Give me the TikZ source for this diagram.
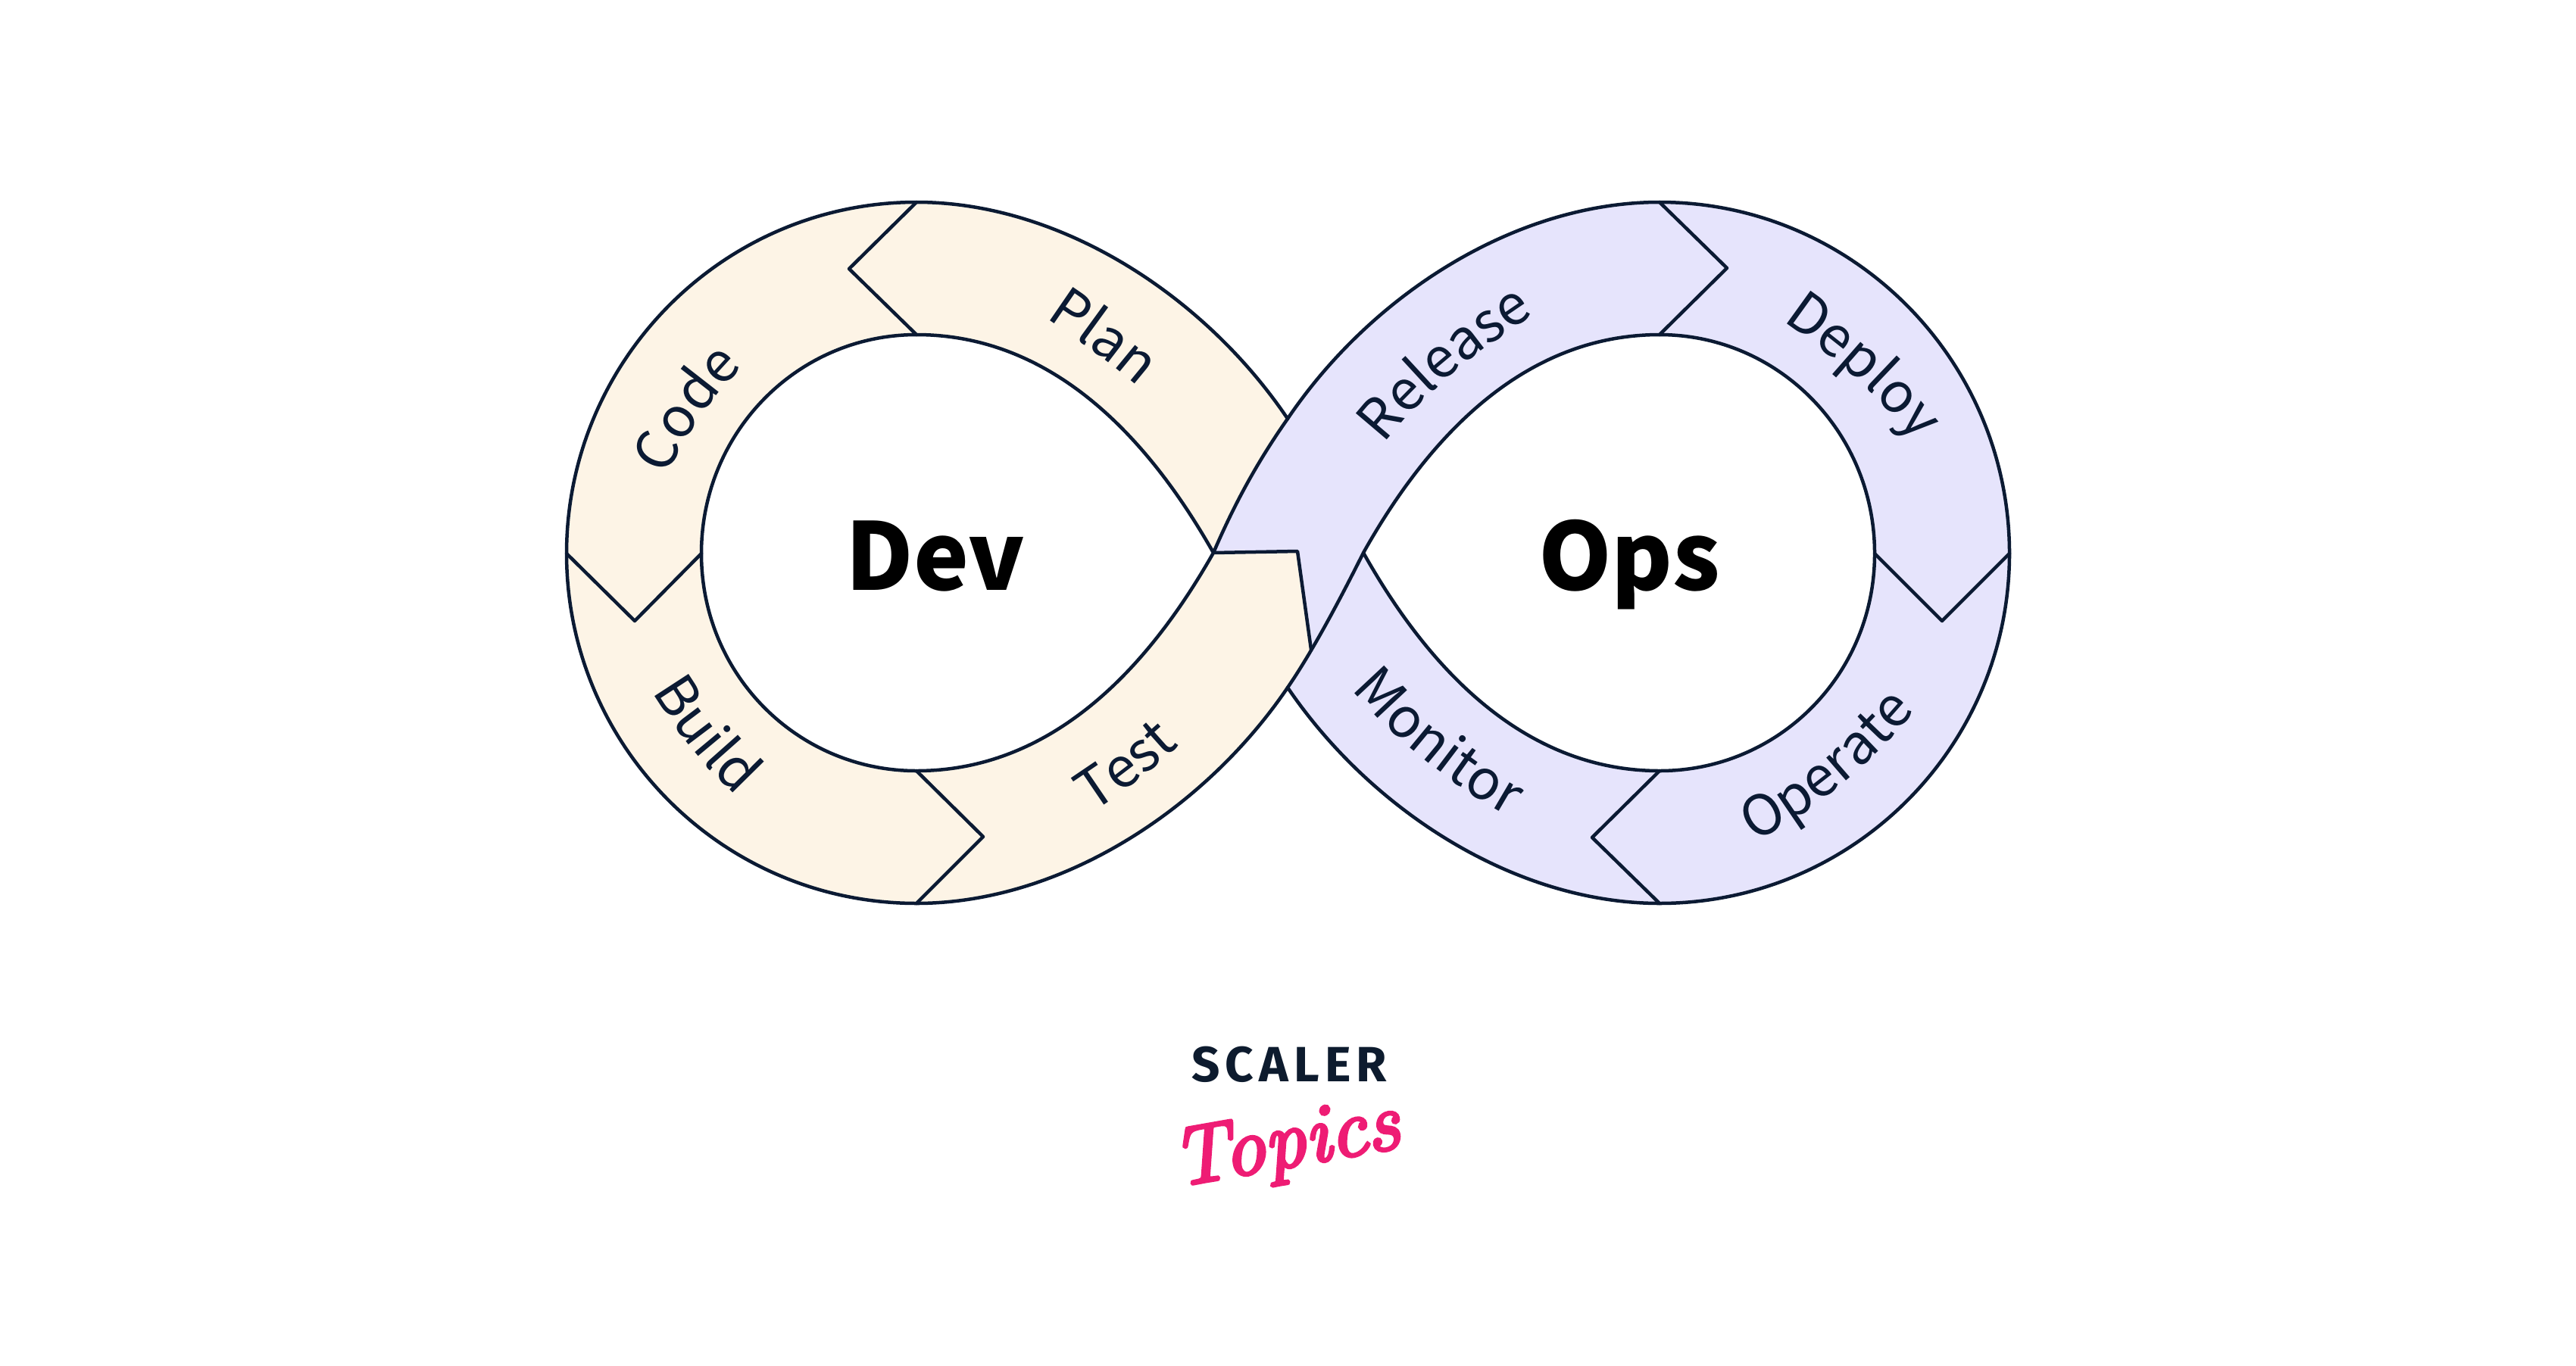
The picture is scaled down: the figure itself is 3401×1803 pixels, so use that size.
\documentclass[tikz,border=0pt]{standalone}
\usepackage{fontspec}
\usetikzlibrary{decorations.text}
\newfontfamily\lblfont{Noto Sans CJK SC}
\newfontfamily\scalerfont[LetterSpace=11]{Fira Sans}
\newfontfamily\topicsfont[FakeBold=4,ItalicFeatures={FakeBold=4}]{Latin Modern Roman}
\definecolor{ink}{HTML}{0B1A33}
\definecolor{devfill}{HTML}{FDF4E6}
\definecolor{opsfill}{HTML}{E6E4FC}
\definecolor{scaler}{HTML}{0D1B2E}
\definecolor{topics}{HTML}{EE1C74}
\tikzset{
  x=0.01cm,y=-0.01cm,
  edge/.style={draw=ink,line width=0.045cm,line join=round,line cap=round},
  devband/.style={fill=devfill,even odd rule},
  opsband/.style={fill=opsfill,even odd rule},
  biglabel/.style={font=\lblfont\bfseries\fontsize{35}{42}\selectfont,text=black,inner sep=0pt,anchor=base},
  curved/.style={decorate,decoration={text along path,text align=center,
    text={|\lblfont\fontsize{20.8}{25}\selectfont\color{ink}|#1}}}
}
\begin{document}
\begin{tikzpicture}
\useasboundingbox (0,0) rectangle (3401,1803);
% key points
\coordinate (dtop) at (1210,267);
\coordinate (dbot) at (1210,1193);
\coordinate (dleft) at (748,731);
\coordinate (ditop) at (1210,442);
\coordinate (dibot) at (1210,1018);
\coordinate (dileft) at (926,731);
\coordinate (tipL) at (1602,730);
\coordinate (tipR) at (1800,730);
\coordinate (xtop) at (1700,553);
\coordinate (xbot) at (1700,908);
\coordinate (otop) at (2191,267);
\coordinate (obot) at (2191,1193);
\coordinate (oright) at (2653,731);
\coordinate (oitop) at (2191,442);
\coordinate (oibot) at (2191,1018);
\coordinate (oiright) at (2475,731);
\coordinate (tail1) at (1713,728);
\coordinate (tail2) at (1731,858);
% fills
\path[devband] (tipL) .. controls (1630,665) and (1660,610) .. (xtop)
  .. controls (1590,390) and (1400,267) .. (dtop)
  .. controls (955,267) and (748,476) .. (dleft)
  .. controls (748,986) and (955,1193) .. (dbot)
  .. controls (1400,1193) and (1590,1070) .. (xbot)
  .. controls (1712,890) and (1722,875) .. (tail2)
  -- (tail1) -- cycle
  (tipL) .. controls (1500,550) and (1370,442) .. (ditop)
  .. controls (1053,442) and (926,571) .. (dileft)
  .. controls (926,891) and (1053,1018) .. (dibot)
  .. controls (1370,1018) and (1500,910) .. (tipL) -- cycle;
\path[opsband] (tipL) .. controls (1630,665) and (1660,610) .. (xtop)
  .. controls (1810,390) and (2000,267) .. (otop)
  .. controls (2446,267) and (2653,476) .. (oright)
  .. controls (2653,986) and (2446,1193) .. (obot)
  .. controls (2000,1193) and (1810,1070) .. (xbot)
  .. controls (1712,890) and (1722,875) .. (tail2)
  -- (tail1) -- cycle
  (tipR) .. controls (1901,550) and (2031,442) .. (oitop)
  .. controls (2348,442) and (2475,571) .. (oiright)
  .. controls (2475,891) and (2348,1018) .. (oibot)
  .. controls (2031,1018) and (1901,910) .. (tipR) -- cycle;
% outlines
\draw[edge] (xtop) .. controls (1590,390) and (1400,267) .. (dtop)
  .. controls (955,267) and (748,476) .. (dleft)
  .. controls (748,986) and (955,1193) .. (dbot)
  .. controls (1400,1193) and (1590,1070) .. (xbot)
  .. controls (1733,860) and (1770,790) .. (tipR)
  .. controls (1901,550) and (2031,442) .. (oitop)
  .. controls (2348,442) and (2475,571) .. (oiright)
  .. controls (2475,891) and (2348,1018) .. (oibot)
  .. controls (2031,1018) and (1901,910) .. (tipR);
\draw[edge] (xbot) .. controls (1810,1070) and (2000,1193) .. (obot)
  .. controls (2446,1193) and (2653,986) .. (oright)
  .. controls (2653,476) and (2446,267) .. (otop)
  .. controls (2000,267) and (1810,390) .. (xtop)
  .. controls (1660,610) and (1630,665) .. (tipL)
  .. controls (1500,550) and (1370,442) .. (ditop)
  .. controls (1053,442) and (926,571) .. (dileft)
  .. controls (926,891) and (1053,1018) .. (dibot)
  .. controls (1370,1018) and (1500,910) .. (tipL);
\draw[edge] (tipL) -- (tail1) -- (tail2);
% chevrons
\coordinate (n1) at (1121,355);
\coordinate (n2) at (838,820);
\coordinate (n3) at (1298,1105);
\coordinate (n4) at (2280,354);
\coordinate (n5) at (2564,820);
\coordinate (n6) at (2102,1106);
\draw[edge] (dtop) -- (n1) -- (ditop);
\draw[edge] (dleft) -- (n2) -- (dileft);
\draw[edge] (dibot) -- (n3) -- (dbot);
\draw[edge] (otop) -- (n4) -- (oitop);
\draw[edge] (oright) -- (n5) -- (oiright);
\draw[edge] (oibot) -- (n6) -- (obot);
% centre labels
\node[biglabel] (dev) at (1235,779) {Dev};
\node[biglabel] (ops) at (2151,779) {Ops};
% band labels on their baselines
\path[curved=Code] (870,660) .. controls (892,590) and (935,525) .. (1005,460);
\path[curved=Plan] (1350,400) .. controls (1400,430) and (1470,480) .. (1530,535);
\path[curved=Build] (840,875) .. controls (875,945) and (935,1025) .. (1005,1080);
\path[curved=Test] (1412,1090) .. controls (1462,1065) and (1532,1010) .. (1582,960);
\path[curved=Release] (1817,600) .. controls (1880,515) and (1950,465) .. (2040,405);
\path[curved=Deploy] (2346,419) .. controls (2420,469) and (2485,525) .. (2535,590);
\path[curved=Monitor] (1770,893) .. controls (1834,972) and (1914,1037) .. (2011,1089);
\path[curved=Operate] (2289,1125) .. controls (2380,1085) and (2470,1015) .. (2548,915);
% logo
\node[font=\scalerfont\bfseries\fontsize{18.6}{22}\selectfont,text=scaler,inner sep=0pt,anchor=base] (scaler) at (1702,1428) {SCALER};
\node[font=\topicsfont\itshape\fontsize{31}{35}\selectfont,text=topics,inner sep=0pt,rotate=10] (topicsword) at (1698,1515) {Topics};
\end{tikzpicture}
\end{document}
